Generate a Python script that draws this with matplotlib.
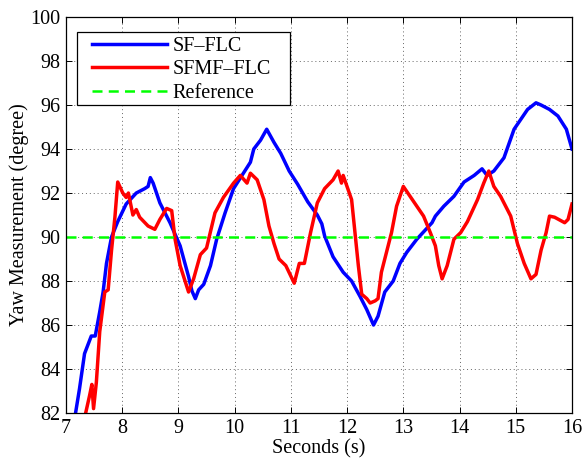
import matplotlib
matplotlib.use("Agg")
import matplotlib.pyplot as plt
from matplotlib.patches import Rectangle

# SF-FLC yaw response (time in s, yaw in degree)
sf_t = [7.17, 7.24, 7.33, 7.39, 7.45, 7.52, 7.60, 7.66, 7.72, 7.81, 7.92, 8.07,
        8.25, 8.40, 8.46, 8.50, 8.55, 8.67, 8.85, 9.03, 9.18, 9.24, 9.30, 9.36,
        9.45, 9.57, 9.68, 9.83, 9.98, 10.13, 10.28, 10.34, 10.46, 10.57, 10.70,
        10.82, 10.97, 11.12, 11.30, 11.47, 11.55, 11.60, 11.75, 11.93, 12.08,
        12.23, 12.35, 12.47, 12.55, 12.67, 12.82, 12.94, 13.06, 13.24, 13.42,
        13.51, 13.57, 13.72, 13.90, 14.08, 14.26, 14.40, 14.49, 14.61, 14.79,
        14.97, 15.21, 15.36, 15.45, 15.60, 15.75, 15.90, 16.00]
sf_y = [82.0, 83.1, 84.7, 85.1, 85.5, 85.5, 86.6, 87.5, 88.8, 90.0, 90.7, 91.5,
        92.0, 92.2, 92.3, 92.7, 92.45, 91.55, 90.65, 89.6, 88.2, 87.55, 87.2,
        87.6, 87.85, 88.7, 89.9, 91.1, 92.2, 92.8, 93.4, 94.0, 94.4, 94.9, 94.3,
        93.8, 93.0, 92.4, 91.6, 91.0, 90.6, 90.05, 89.1, 88.4, 88.0, 87.3, 86.7,
        86.0, 86.4, 87.5, 88.0, 88.8, 89.3, 89.9, 90.4, 90.65, 90.95, 91.4,
        91.85, 92.5, 92.8, 93.1, 92.8, 93.0, 93.6, 94.9, 95.8, 96.1, 96.0, 95.8,
        95.5, 94.9, 94.0]

# SFMF-FLC yaw response
sfmf_t = [7.35, 7.42, 7.46, 7.49, 7.54, 7.60, 7.69, 7.75, 7.81, 7.87, 7.92,
          8.01, 8.07, 8.11, 8.19, 8.25, 8.31, 8.46, 8.58, 8.67, 8.79, 8.88,
          8.94, 9.03, 9.18, 9.27, 9.39, 9.50, 9.65, 9.80, 9.98, 10.10, 10.22,
          10.28, 10.40, 10.52, 10.61, 10.70, 10.79, 10.91, 11.06, 11.15, 11.24,
          11.35, 11.47, 11.60, 11.75, 11.84, 11.90, 11.93, 12.08, 12.14, 12.20,
          12.26, 12.35, 12.41, 12.50, 12.55, 12.61, 12.70, 12.79, 12.88, 13.00,
          13.12, 13.24, 13.36, 13.48, 13.57, 13.63, 13.69, 13.78, 13.90, 14.02,
          14.14, 14.32, 14.43, 14.52, 14.61, 14.73, 14.82, 14.91, 15.03, 15.15,
          15.27, 15.36, 15.45, 15.54, 15.60, 15.69, 15.87, 15.93, 16.00]
sfmf_y = [82.0, 82.8, 83.3, 82.2, 83.4, 85.7, 87.5, 87.6, 89.4, 90.9, 92.5,
          92.0, 91.8, 92.0, 91.0, 91.25, 90.9, 90.5, 90.35, 90.8, 91.3, 91.2,
          89.9, 88.7, 87.5, 88.1, 89.2, 89.5, 91.1, 91.8, 92.45, 92.8, 92.45,
          92.9, 92.6, 91.7, 90.5, 89.7, 89.0, 88.7, 87.9, 88.8, 88.8, 90.2,
          91.55, 92.2, 92.6, 93.0, 92.45, 92.8, 91.7, 90.2, 88.7, 87.4, 87.2,
          87.0, 87.1, 87.2, 88.4, 89.3, 90.2, 91.4, 92.3, 91.85, 91.4, 90.95,
          90.2, 89.6, 88.7, 88.1, 88.7, 89.9, 90.2, 90.7, 91.7, 92.45, 93.0,
          92.3, 91.85, 91.4, 90.95, 89.7, 88.8, 88.1, 88.3, 89.4, 90.2, 90.95,
          90.9, 90.65, 90.8, 91.5]

reference = 90.0
x_ticks = list(range(7, 17))
y_ticks = list(range(82, 101, 2))

plt.rcParams['font.family'] = ['Liberation Serif', 'DejaVu Serif']
plt.rcParams['font.size'] = 14.5

fig = plt.figure(figsize=(5.82, 4.59), dpi=100)
ax = fig.add_axes([0.1134, 0.1002, 0.8694, 0.8627])

ax.plot(sf_t, sf_y, color='#0000ff', lw=2.5, label='SF\u2013FLC')
ax.plot(sfmf_t, sfmf_y, color='#ff0000', lw=2.5, label='SFMF\u2013FLC')
ax.axhline(reference, color='#00ff00', lw=1.8, ls=(0, (4, 2.5)), label='Reference')

ax.set_xlim(7, 16)
ax.set_ylim(82, 100)
ax.set_xticks(x_ticks)
ax.set_yticks(y_ticks)
ax.grid(True, color='#666666', ls=(0, (1, 3)), lw=0.7)
ax.tick_params(direction='in', top=True, right=True, length=4, width=0.7, pad=4)
for s in ax.spines.values():
    s.set_linewidth(0.9)

ax.set_xlabel('Seconds (s)', labelpad=1)
ax.set_ylabel('Yaw Measurement (degree)', labelpad=1)

# MATLAB-style legend box: wide side padding, tight top/bottom
box = Rectangle((0.021, 0.778), 0.422, 0.185, transform=ax.transAxes,
                facecolor='white', edgecolor='black', lw=0.9, zorder=4.5)
ax.add_patch(box)
leg = ax.legend(loc='upper left', bbox_to_anchor=(0.0514, 0.950), frameon=False,
                borderpad=0.0, borderaxespad=0.0, handlelength=3.7,
                labelspacing=0.21, handletextpad=0.3)
leg.set_zorder(5)

fig.savefig('out.png', dpi=100)
